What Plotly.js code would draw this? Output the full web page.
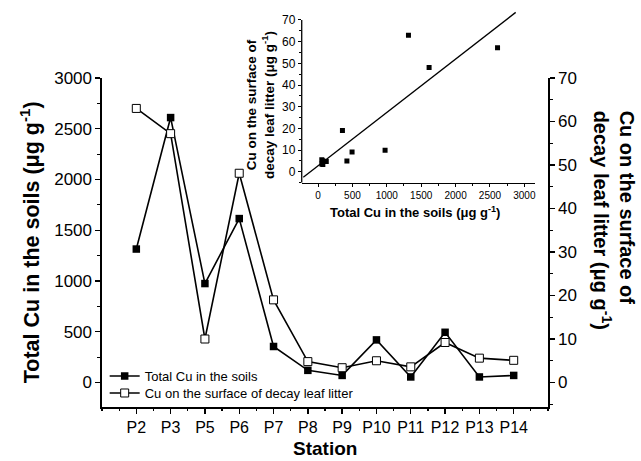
<!DOCTYPE html>
<html>
<head>
<meta charset="utf-8">
<script src="https://cdn.plot.ly/plotly-3.0.1.min.js"></script>
<style>html,body{margin:0;padding:0;background:#fff;}#chart{width:641px;height:461px;}</style>
</head>
<body>
<div id="chart"></div>
<script>
const categories = ['P2','P3','P5','P6','P7','P8','P9','P10','P11','P12','P13','P14'];
const soilCu = [1315, 2610, 975, 1615, 355, 120, 70, 420, 55, 495, 55, 70];
const litterCu = [63, 57.2, 10, 48.1, 19, 4.8, 3.4, 5, 3.6, 9.2, 5.6, 5.1];
const soilName = 'Total Cu in the soils';
const litterName = 'Cu on the surface of decay leaf litter';

const idx = categories.map((c, i) => i);

// least-squares fit of litter Cu on soil Cu (inset regression line)
const n = soilCu.length;
const mx = soilCu.reduce((a, b) => a + b, 0) / n;
const my = litterCu.reduce((a, b) => a + b, 0) / n;
let sxy = 0, sxx = 0;
for (let i = 0; i < n; i++) { sxy += (soilCu[i] - mx) * (litterCu[i] - my); sxx += (soilCu[i] - mx) ** 2; }
const slope = sxy / sxx, intercept = my - slope * mx;
const fitExtent = [-214, 2874];

const FONT = 'Liberation Sans, Arial, sans-serif';

const traces = [
  { x: idx, y: soilCu, name: soilName, type: 'scatter', mode: 'lines+markers',
    xaxis: 'x', yaxis: 'y', legend: 'legend',
    line: { color: '#000', width: 1.6 },
    marker: { symbol: 'square', size: 7.5, color: '#000' } },
  { x: idx, y: litterCu, name: litterName, type: 'scatter', mode: 'lines+markers',
    xaxis: 'x', yaxis: 'y2', legend: 'legend2',
    line: { color: '#000', width: 1.6 },
    marker: { symbol: 'square', size: 8, color: '#fff', line: { color: '#000', width: 1 } } },
  { x: idx, y: soilCu, type: 'scatter', mode: 'markers', showlegend: false, hoverinfo: 'skip',
    xaxis: 'x3', yaxis: 'y', marker: { opacity: 0, size: 1 } },
  { x: soilCu, y: litterCu, type: 'scatter', mode: 'markers', showlegend: false,
    xaxis: 'x2', yaxis: 'y3',
    marker: { symbol: 'square', size: 5, color: '#000' } },
  { x: fitExtent, y: fitExtent.map(v => intercept + slope * v), type: 'scatter', mode: 'lines',
    showlegend: false, xaxis: 'x2', yaxis: 'y3',
    line: { color: '#000', width: 1.3 } }
];

const legendBase = { xanchor: 'left', yanchor: 'middle', bgcolor: 'rgba(0,0,0,0)',
  font: { family: FONT, size: 13, color: '#000' }, itemwidth: 30, borderwidth: 0 };

const layout = {
  width: 641, height: 461,
  margin: { l: 102, r: 93, t: 8, b: 54 },
  paper_bgcolor: '#fff', plot_bgcolor: 'rgba(0,0,0,0)',
  font: { family: FONT, color: '#000' },
  showlegend: true,
  legend: Object.assign({}, legendBase, { x: 0.006, y: 0.0777 }),
  legend2: Object.assign({}, legendBase, { x: 0.006, y: 0.035 }),
  xaxis: { domain: [0, 1], range: [-1, 12], tickmode: 'array', tickvals: idx, ticktext: categories,
    showgrid: false, zeroline: false, showline: true, linecolor: '#000', linewidth: 1.6,
    ticks: 'outside', ticklen: 5, tickwidth: 1.4, tickcolor: '#000',
    tickfont: { family: FONT, size: 16, color: '#000' },
    anchor: 'y' },
  xaxis3: { overlaying: 'x', anchor: 'y', range: [-1, 12], tickmode: 'linear', tick0: -1, dtick: 0.5,
    showticklabels: false, showgrid: false, zeroline: false, showline: false,
    ticks: 'outside', ticklen: 3, tickwidth: 1.2, tickcolor: '#000' },
  yaxis: { domain: [0, 0.8246], range: [-241, 3000], dtick: 500, tick0: 0,
    showgrid: false, zeroline: false, showline: true, linecolor: '#000', linewidth: 1.6,
    ticks: 'outside', ticklen: 5, tickwidth: 1.4, tickcolor: '#000',
    tickfont: { family: FONT, size: 17, color: '#000' },
    minor: { dtick: 250, tick0: 0, ticks: 'outside', ticklen: 3, tickwidth: 1.2, tickcolor: '#000', showgrid: false },
    anchor: 'x' },
  yaxis2: { overlaying: 'y', side: 'right', anchor: 'x', range: [-5.63, 70], dtick: 10, tick0: 0,
    showgrid: false, zeroline: false, showline: true, linecolor: '#000', linewidth: 1.6,
    ticks: 'outside', ticklen: 5, tickwidth: 1.4, tickcolor: '#000',
    tickfont: { family: FONT, size: 17, color: '#000' },
    minor: { dtick: 5, tick0: 0, ticks: 'outside', ticklen: 3, tickwidth: 1.2, tickcolor: '#000', showgrid: false } },
  xaxis2: { domain: [0.4478, 0.9709], range: [-237, 3155], dtick: 500, tick0: 0, anchor: 'y3',
    showgrid: false, zeroline: false, showline: true, linecolor: '#000', linewidth: 1.3,
    ticks: 'outside', ticklen: 3, tickwidth: 1, tickcolor: '#000',
    tickfont: { family: FONT, size: 10, color: '#000' },
    minor: { dtick: 250, tick0: 0, ticks: 'outside', ticklen: 2, tickwidth: 1, tickcolor: '#000', showgrid: false } },
  yaxis3: { domain: [0.5622, 0.9917], range: [-5, 74], dtick: 10, tick0: 0, anchor: 'x2',
    showgrid: false, zeroline: false, showline: false,
    ticks: 'outside', ticklen: 3, tickwidth: 1, tickcolor: '#000',
    tickfont: { family: FONT, size: 12, color: '#000' },
    minor: { dtick: 5, tick0: 0, ticks: 'outside', ticklen: 2, tickwidth: 1, tickcolor: '#000', showgrid: false } },
  shapes: [
    { type: 'line', xref: 'paper', yref: 'y3', x0: 0.4478, x1: 0.4478, y0: -5, y1: 70,
      line: { color: '#000', width: 1.3 } }
  ],
  annotations: [
    { text: '<b>Total Cu in the soils (μg g<sup>-1</sup>)</b>', xref: 'paper', yref: 'paper',
      x: -0.161, y: 0.4135, xanchor: 'center', yanchor: 'middle', textangle: -90, showarrow: false,
      font: { family: FONT, size: 21.5, color: '#000' } },
    { text: '<b>Cu on the surface of<br>decay leaf litter (μg g<sup>-1</sup>)</b>', xref: 'paper', yref: 'paper',
      x: 1.148, y: 0.749, xanchor: 'center', yanchor: 'top', textangle: 90, align: 'left', showarrow: false,
      font: { family: FONT, size: 20, color: '#000' } },
    { text: '<b>Station</b>', xref: 'paper', yref: 'paper',
      x: 0.5, y: -0.103, xanchor: 'center', yanchor: 'middle', showarrow: false,
      font: { family: FONT, size: 19, color: '#000' } },
    { text: '<b>Total Cu in the soils (μg g<sup>-1</sup>)</b>', xref: 'paper', yref: 'paper',
      x: 0.7018, y: 0.4887, xanchor: 'center', yanchor: 'middle', showarrow: false,
      font: { family: FONT, size: 13, color: '#000' } },
    { text: '<b>Cu on the surface of<br>decay leaf litter (μg g<sup>-1</sup>)</b>', xref: 'paper', yref: 'paper',
      x: 0.3565, y: 0.757, xanchor: 'center', yanchor: 'middle', textangle: -90, showarrow: false,
      font: { family: FONT, size: 13.5, color: '#000' } }
  ]
};

Plotly.newPlot('chart', traces, layout, { displayModeBar: false, staticPlot: true });
</script>
</body>
</html>
